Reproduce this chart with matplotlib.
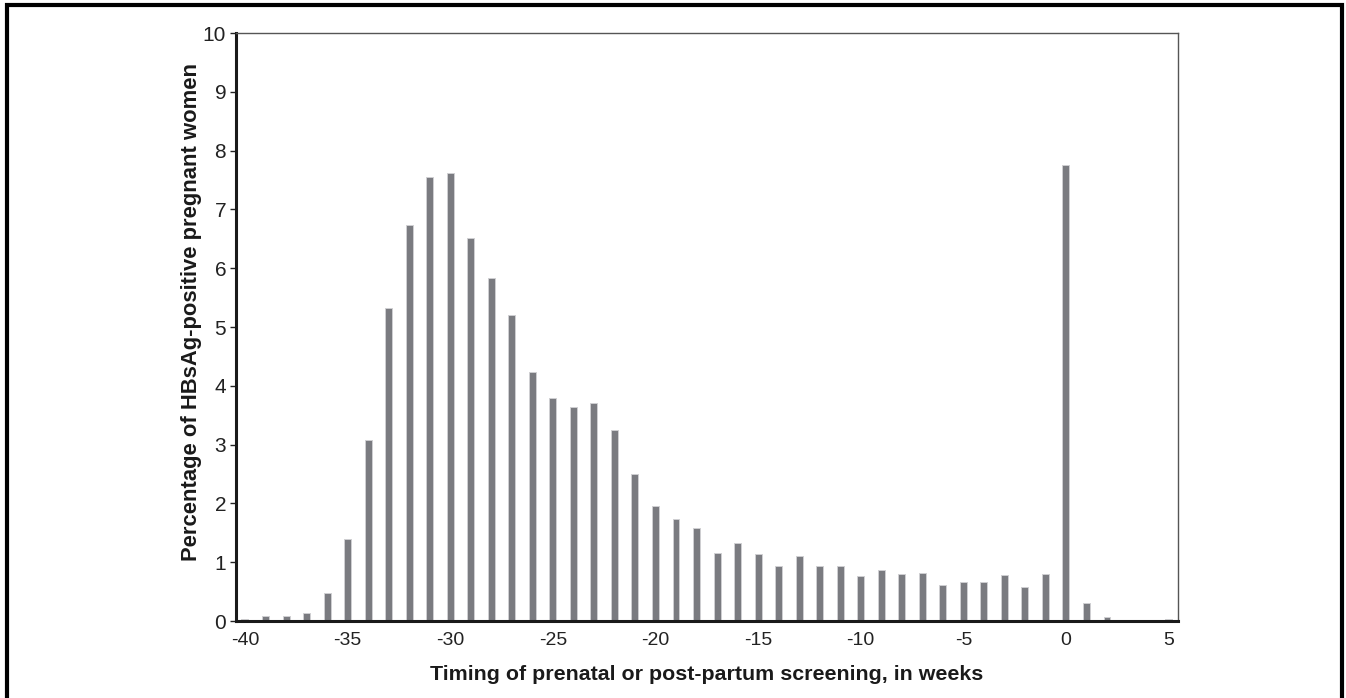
import numpy as np
import matplotlib.pyplot as plt
from matplotlib.patches import Rectangle

plt.rcParams['font.family'] = ['Liberation Sans', 'DejaVu Sans']
plt.rcParams['axes.unicode_minus'] = False

#%% Data
weeks = list(range(-40, 6))
percent = [0.03, 0.08, 0.09, 0.14, 0.47, 1.40, 3.08, 5.33, 6.73, 7.55,
           7.62, 6.52, 5.84, 5.20, 4.23, 3.80, 3.64, 3.70, 3.25, 2.50,
           1.95, 1.74, 1.59, 1.16, 1.32, 1.14, 0.93, 1.10, 0.94, 0.94,
           0.76, 0.87, 0.80, 0.81, 0.62, 0.67, 0.67, 0.79, 0.58, 0.80,
           7.75, 0.30, 0.07, 0.02, 0.01, 0.03]
xticks = [-40, -35, -30, -25, -20, -15, -10, -5, 0, 5]
yticks = list(range(0, 11))

#%% Plot
fig = plt.figure(figsize=(13.46, 6.98), dpi=100)
ax = fig.add_axes([0.1753, 0.1103, 0.6999, 0.8424])

ax.bar(weeks, percent, width=0.34, color='#7a7b80', edgecolor='#cfcfd2', linewidth=0.7)

ax.set_xlim(-40.44, 5.46)
ax.set_ylim(0, 10)
ax.set_xticks(xticks)
ax.set_yticks(yticks)
ax.tick_params(axis='x', length=0, labelsize=14, pad=8, colors='#222222')
ax.tick_params(axis='y', length=4, width=1, labelsize=15, pad=3, colors='#222222')

for s in ['left', 'bottom']:
    ax.spines[s].set_linewidth(2.2)
    ax.spines[s].set_color('#1a1a1a')
for s in ['top', 'right']:
    ax.spines[s].set_linewidth(1.0)
    ax.spines[s].set_color('#555555')

ax.set_xlabel('Timing of prenatal or post-partum screening, in weeks', fontsize=15.4,
              fontweight='bold', color='#1a1a1a')
ax.set_ylabel('Percentage of HBsAg-positive pregnant women', fontsize=15.8,
              fontweight='bold', color='#1a1a1a')
ax.xaxis.set_label_coords(0.5, -0.075)
ax.yaxis.set_label_coords(-0.036, 0.5255)

# outer frame round the figure
fig.patches.append(Rectangle((7 / 1346, -0.02), 1 - 11 / 1346, 1.02 - 5 / 698,
                             transform=fig.transFigure, fill=False,
                             edgecolor='black', linewidth=3))

fig.savefig('out.png', dpi=100)
